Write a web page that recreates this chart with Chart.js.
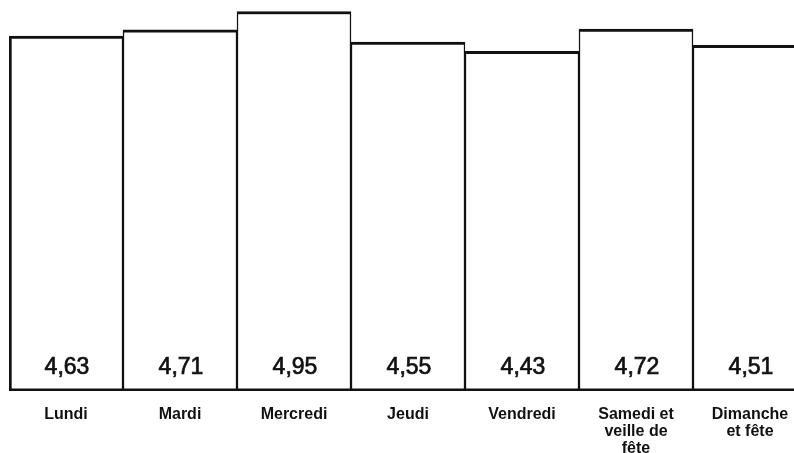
<!DOCTYPE html>
<html>
<head>
<meta charset="utf-8">
<script src="https://cdn.jsdelivr.net/npm/chart.js@4/dist/chart.umd.min.js"></script>
<style>
  html, body { margin: 0; padding: 0; background: #fff; overflow: hidden; }
  /* le graphique d'origine est coupé à droite et en bas */
  #wrap { position: relative; width: 820px; height: 472px; }
</style>
</head>
<body>
<div id="wrap"><canvas id="jours"></canvas></div>
<script>
// jours de la semaine et valeurs
const JOURS = ['Lundi', 'Mardi', 'Mercredi', 'Jeudi', 'Vendredi', ['Samedi et', 'veille de', 'fête'], ['Dimanche', 'et fête']];
const VALEURS = [4.63, 4.71, 4.95, 4.55, 4.43, 4.72, 4.51];

const FONT = "'Liberation Sans', Arial, Helvetica, sans-serif";

function fmt(n) { return n.toFixed(2).replace('.', ','); }

// valeurs écrites en bas de chaque barre
const valeursPlugin = {
  id: 'valeurs',
  afterDatasetsDraw(chart) {
    const ctx = chart.ctx;
    const meta = chart.getDatasetMeta(0);
    ctx.save();
    ctx.fillStyle = '#111';
    ctx.strokeStyle = '#111';
    ctx.lineWidth = 0.7;
    ctx.font = '23px ' + FONT;
    ctx.textAlign = 'center';
    ctx.textBaseline = 'middle';
    meta.data.forEach((bar, i) => {
      ctx.fillText(fmt(VALEURS[i]), bar.x + 1, bar.base - 23);
      ctx.strokeText(fmt(VALEURS[i]), bar.x + 1, bar.base - 23);
    });
    ctx.restore();
  }
};

new Chart(document.getElementById('jours'), {
  type: 'bar',
  data: {
    labels: JOURS,
    datasets: [{
      data: VALEURS,
      backgroundColor: '#fff',
      borderColor: '#111',
      borderWidth: c => ({ top: 3, bottom: 3, left: c.dataIndex === 0 ? 3 : 1.5, right: 1.5 }),
      borderSkipped: false,
      barPercentage: 1,
      categoryPercentage: 1
    }]
  },
  options: {
    responsive: true, maintainAspectRatio: false, animation: false,
    layout: { padding: { left: 9, right: 13, top: 0, bottom: 0 } },
    plugins: { legend: { display: false }, tooltip: { enabled: false } },
    scales: {
      x: {
        grid: { display: false, drawTicks: false },
        border: { display: false },
        ticks: { padding: 15, maxRotation: 0, autoSkip: false, color: '#111', font: { size: 16, weight: 'bold', family: FONT, lineHeight: 1.06 } }
      },
      y: { display: false, min: 0, max: 5.1 }
    }
  },
  plugins: [valeursPlugin]
});
</script>
</body>
</html>
